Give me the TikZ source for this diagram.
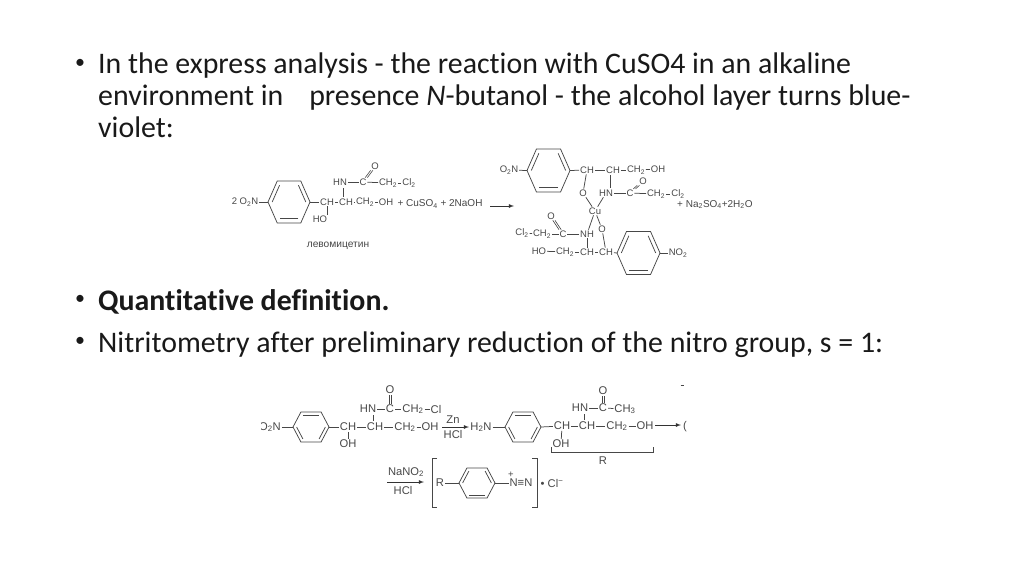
\documentclass[tikz,border=0pt]{standalone}
\usepackage{fontspec}
\setmainfont[Ligatures={NoCommon,NoContextual}]{Carlito}
\newfontfamily\chemfont{Liberation Sans}
\usetikzlibrary{calc}
\definecolor{chemgray}{gray}{0.28}
\tikzset{
  txt/.style={anchor=base west,inner sep=0pt,font=\fontsize{29.85}{32}\selectfont,text=black!90},
  dot/.style={anchor=center,inner sep=0pt,font=\fontsize{20}{20}\selectfont,text=black!90},
  atom/.style={inner sep=0.8pt,text=chemgray,font=\chemfont\fontsize{9.5}{11}\selectfont},
  atombig/.style={inner sep=0.8pt,text=chemgray,font=\chemfont\fontsize{11.2}{13}\selectfont},
  bond/.style={draw=chemgray,line width=0.75pt},
  rxn/.style={draw=black!80,line width=0.8pt,-latex},
}
% ring: name, x, y, half width, half height, inner bonds
\newcommand{\bzring}[6]{%
  \coordinate (#1c) at (#2,#3);
  \coordinate (#11) at (#2-#4,#3);
  \coordinate (#12) at (#2-0.56*#4,#3-#5);
  \coordinate (#13) at (#2+0.56*#4,#3-#5);
  \coordinate (#14) at (#2+#4,#3);
  \coordinate (#15) at (#2+0.56*#4,#3+#5);
  \coordinate (#16) at (#2-0.56*#4,#3+#5);
  \draw[bond] (#11) -- (#12) -- (#13) -- (#14) -- (#15) -- (#16) -- cycle;
  \foreach \p/\q in {#6}
    \draw[bond] ($(#1\p)!.2!(#1c)$) -- ($(#1\q)!.2!(#1c)$);
}
% double bond between two atoms
\newcommand{\dblbond}[2]{%
  \draw[bond,line width=0.6pt,transform canvas={xshift=-1.1pt}] (#1) -- (#2);
  \draw[bond,line width=0.6pt,transform canvas={xshift=1.1pt}] (#1) -- (#2);
}
\begin{document}
\begin{tikzpicture}[x=1pt,y=-1pt]
\useasboundingbox (0,0) rectangle (1024,576);
%% text
\node[dot] (bul_1) at (80,64) {•};
\node[txt] (line_1) at (98,73) {In the express analysis - the reaction with CuSO4 in an alkaline};
\node[txt] (line_2) at (98,105) {environment in\hspace{26pt}presence \textit{N}-butanol - the alcohol layer turns blue-};
\node[txt] (line_3) at (98,137) {violet:};
\node[dot] (bul_2) at (80,300) {•};
\node[txt] (line_4) at (98,310) {\textbf{Quantitative definition.}};
\node[dot] (bul_3) at (80,342) {•};
\node[txt] (line_5) at (98,352) {Nitritometry after preliminary reduction of the nitro group, s = 1:};
%% levomycetin
\bzring{a}{289}{202}{21}{21}{1/2,3/4,5/6}
\node[atom] (a_no) at (245,202) {2 O\textsubscript{2}N};
\node[atom] (a_ch1) at (327,202) {CH};
\node[atom] (a_ch2) at (346,202) {CH};
\node[atom] (a_chh) at (365,202) {CH\textsubscript{2}};
\node[atom] (a_oh) at (386,202) {OH};
\node[atom] (a_ho) at (320,219) {HO};
\node[atom] (a_hn) at (340,182) {HN};
\node[atom] (a_c) at (363,182) {C};
\node[atom] (a_o) at (375,166) {O};
\node[atom] (a_chc) at (388,183) {CH\textsubscript{2}};
\node[atom] (a_cl) at (409,183) {Cl\textsubscript{2}};
\node[atom,font=\chemfont\fontsize{10}{12}\selectfont] (a_rest) at (440,204) {+ CuSO\textsubscript{4} + 2NaOH};
\node[atom,font=\chemfont\fontsize{10.2}{12}\selectfont] (a_name) at (338,246) {левомицетин};
\coordinate (a_start) at (490,206);
\coordinate (a_end) at (514,206);
\coordinate (a_v1) at (343,188);
\coordinate (a_v2) at (343,197);
\draw[bond] (a_no) -- (a1);
\draw[bond] (a4) -- (a_ch1);
\draw[bond] (a_ch1) -- (a_ch2);
\draw[bond] (a_ch2) -- (a_chh);
\draw[bond] (a_chh) -- (a_oh);
\draw[bond] (a_ch1) -- (a_ch1 |- a_ho.north);
\draw[bond] (a_hn) -- (a_c);
\draw[bond] (a_c) -- (a_chc);
\draw[bond] (a_chc) -- (a_cl);
\draw[bond] (a_v1) -- (a_v2);
\dblbond{a_c}{a_o}
\draw[rxn] (a_start) -- (a_end);
%% copper complex
\bzring{b}{548.5}{170.5}{21.5}{21.5}{1/2,3/4,5/6}
\bzring{d}{638.5}{253}{21.5}{21.5}{1/2,3/4,5/6}
\node[atom] (b_no) at (509,170) {O\textsubscript{2}N};
\node[atom] (b_ch1) at (587,170) {CH};
\node[atom] (b_ch2) at (613,170) {CH};
\node[atom] (b_chh) at (636,170) {CH\textsubscript{2}};
\node[atom] (b_oh) at (658,169) {OH};
\node[atom] (b_o1) at (583,193) {O};
\node[atom] (b_hn) at (606,193) {HN};
\node[atom] (b_c) at (630,193) {C};
\node[atom] (b_o2) at (643,181) {O};
\node[atom] (b_chc) at (656,194) {CH\textsubscript{2}};
\node[atom] (b_cl) at (678,194) {Cl\textsubscript{2}};
\node[atom,font=\chemfont\fontsize{10}{12}\selectfont,anchor=west,inner sep=0pt] (b_rest) at (677,204.500) {+ Na\textsubscript{2}SO\textsubscript{4}+2H\textsubscript{2}O};
\node[atom] (b_cu) at (595,211) {Cu};
\node[atom] (b_o3) at (602,229) {O};
\node[atom] (b_nh) at (587,234) {NH};
\node[atom] (b_c2) at (563,234) {C};
\node[atom] (b_o4) at (551,216) {O};
\node[atom] (b_chd) at (542,234) {CH\textsubscript{2}};
\node[atom] (b_cl2) at (522,233) {Cl\textsubscript{2}};
\node[atom] (b_ho) at (539,251) {HO};
\node[atom] (b_che) at (565,252) {CH\textsubscript{2}};
\node[atom] (b_ch3) at (587,252) {CH};
\node[atom] (b_ch4) at (606,252) {CH};
\node[atom] (b_no2) at (678,253) {NO\textsubscript{2}};
\coordinate (b_v1) at (610,175);
\coordinate (b_v2) at (610,188);
\draw[bond] (b_no) -- (b1);
\draw[bond] (b4) -- (b_ch1);
\draw[bond] (b_ch1) -- (b_ch2);
\draw[bond] (b_ch2) -- (b_chh);
\draw[bond] (b_chh) -- (b_oh);
\draw[bond] (b_ch1) -- (b_o1);
\draw[bond] (b_v1) -- (b_v2);
\draw[bond] (b_hn) -- (b_c);
\draw[bond] (b_c) -- (b_chc);
\draw[bond] (b_chc) -- (b_cl);
\dblbond{b_c}{b_o2}
\draw[bond] (b_o1) -- (b_cu);
\draw[bond] (b_hn) -- (b_cu);
\draw[bond] (b_cu) -- (b_o3);
\draw[bond] (b_cu) -- (b_nh);
\draw[bond] (b_nh) -- (b_c2);
\dblbond{b_c2}{b_o4}
\draw[bond] (b_c2) -- (b_chd);
\draw[bond] (b_chd) -- (b_cl2);
\draw[bond] (b_nh) -- (b_ch3);
\draw[bond] (b_o3) -- (b_ch4);
\draw[bond] (b_ho) -- (b_che);
\draw[bond] (b_che) -- (b_ch3);
\draw[bond] (b_ch3) -- (b_ch4);
\draw[bond] (b_ch4) -- (d1);
\draw[bond] (d4) -- (b_no2);
%% nitro compound
\bzring{e}{311}{427}{18}{15}{2/3,4/5,6/1}
\node[atombig] (c_no) at (270,427) {O\textsubscript{2}N};
\fill[white] (250,415) rectangle (261,440);
\node[atombig] (c_ch1) at (348,427) {CH};
\node[atombig] (c_ch2) at (375,427) {CH};
\node[atombig] (c_chh) at (405,427) {CH\textsubscript{2}};
\node[atombig] (c_oh) at (430,427) {OH};
\node[atombig] (c_ho) at (348,444) {OH};
\node[atombig] (c_hn) at (368,409) {HN};
\node[atombig] (c_c) at (390,409) {C};
\node[atombig] (c_o) at (390,390) {O};
\node[atombig] (c_chc) at (413,409) {CH\textsubscript{2}};
\node[atombig] (c_cl) at (436,409) {Cl};
\node[atombig] (c_zn) at (453,420) {Zn};
\node[atombig] (c_hcl) at (453,434) {HCl};
\coordinate (c_start) at (442,427);
\coordinate (c_end) at (469,427);
\coordinate (c_v1) at (373,415);
\coordinate (c_v2) at (373,421);
\draw[bond] (c_no) -- (e1);
\draw[bond] (e4) -- (c_ch1);
\draw[bond] (c_ch1) -- (c_ch2);
\draw[bond] (c_ch2) -- (c_chh);
\draw[bond] (c_chh) -- (c_oh);
\draw[bond] (c_ch1) -- (c_ho);
\draw[bond] (c_v1) -- (c_v2);
\draw[bond] (c_hn) -- (c_c);
\draw[bond] (c_c) -- (c_chc);
\draw[bond] (c_chc) -- (c_cl);
\dblbond{c_c}{c_o}
\draw[rxn] (c_start) -- (c_end);
%% amine
\bzring{f}{523}{427}{18}{15}{2/3,4/5,6/1}
\node[atombig] (d_nh) at (481,427) {H\textsubscript{2}N};
\node[atombig] (d_ch1) at (562,426) {CH};
\node[atombig] (d_ch2) at (587,426) {CH};
\node[atombig] (d_chh) at (617,426) {CH\textsubscript{2}};
\node[atombig] (d_oh) at (645,426) {OH};
\node[atombig] (d_ho) at (561,444) {OH};
\node[atombig] (d_hn) at (580,408) {HN};
\node[atombig] (d_c) at (603,408) {C};
\node[atombig] (d_o) at (603,391) {O};
\node[atombig] (d_chc) at (625,409) {CH\textsubscript{3}};
\node[atombig] (d_r) at (603,461) {R};
\node[atombig] (d_cut) at (685,427) {(};
\coordinate (d_start) at (655,425);
\coordinate (d_end) at (681,425);
\coordinate (d_v1) at (584,414);
\coordinate (d_v2) at (584,420);
\coordinate (d_bl) at (551,447);
\coordinate (d_br) at (653,447);
\coordinate (d_t1) at (680.500,385);
\coordinate (d_t2) at (684,385);
\draw[bond] (d_nh) -- (f1);
\draw[bond] (f4) -- (d_ch1);
\draw[bond] (d_ch1) -- (d_ch2);
\draw[bond] (d_ch2) -- (d_chh);
\draw[bond] (d_chh) -- (d_oh);
\draw[bond] (d_ch1) -- (d_ho);
\draw[bond] (d_v1) -- (d_v2);
\draw[bond] (d_hn) -- (d_c);
\draw[bond] (d_c) -- (d_chc);
\dblbond{d_c}{d_o}
\draw[rxn] (d_start) -- (d_end);
\draw[bond,line width=0.9pt] (d_bl) -- ++(0,5) -| (d_br);
\draw[bond] (d_t1) -- (d_t2);
%% diazonium salt
\bzring{g}{477}{483}{18}{15}{1/2,3/4,5/6}
\node[atombig] (f_na) at (406,472) {NaNO\textsubscript{2}};
\node[atombig] (f_hcl) at (403,490) {HCl};
\node[atombig] (f_r) at (440,483) {R};
\node[atombig] (f_nn) at (521,483) {N≡N};
\node[atom] (f_plus) at (511,475) {+};
\node[atombig] (f_cl) at (552,483) {• Cl\textsuperscript{−}};
\coordinate (f_start) at (387,482);
\coordinate (f_end) at (424,482);
\coordinate (f_lt) at (432,458);
\coordinate (f_lb) at (432,507);
\coordinate (f_rt) at (537,458);
\coordinate (f_rb) at (537,507);
\draw[bond] (f_r) -- (g1);
\draw[bond] (g4) -- (f_nn);
\draw[rxn] (f_start) -- (f_end);
\draw[bond,line width=0.9pt] ($(f_lt)+(5,0)$) -- (f_lt) -- (f_lb) -- ++(5,0);
\draw[bond,line width=0.9pt] ($(f_rt)+(-5,0)$) -- (f_rt) -- (f_rb) -- ++(-5,0);
\end{tikzpicture}
\end{document}
